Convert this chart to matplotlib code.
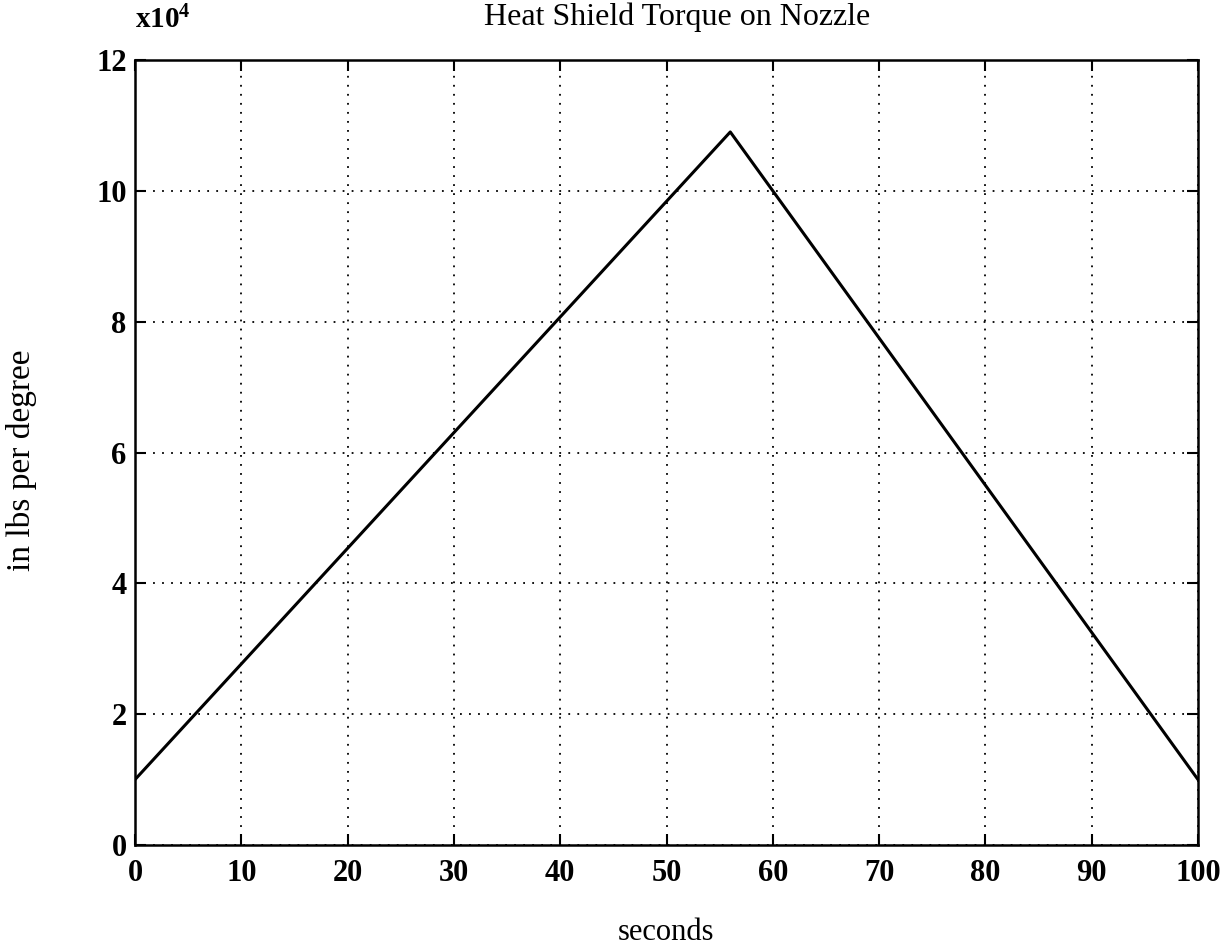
import matplotlib
matplotlib.use("Agg")
import matplotlib.pyplot as plt

# Torque profile (in-lbs per degree, in units of 1e4) versus time
time_s = [0, 56, 100]
torque_e4 = [1.0, 10.9, 1.0]

x_ticks = [0, 10, 20, 30, 40, 50, 60, 70, 80, 90, 100]
y_ticks = [0, 2, 4, 6, 8, 10, 12]

plt.rcParams['font.family'] = ['Liberation Serif', 'DejaVu Serif']
plt.rcParams['mathtext.fontset'] = 'custom'
plt.rcParams['mathtext.rm'] = 'Liberation Serif'
plt.rcParams['mathtext.bf'] = 'Liberation Serif:bold'

W, H = 1229, 950
fig = plt.figure(figsize=(W / 100, H / 100), dpi=100)
ax = fig.add_axes([135 / W, 1 - 845 / H, (1198 - 135) / W, (845 - 60) / H])

ax.plot(time_s, torque_e4, color='black', linewidth=2.2)

ax.set_xlim(0, 100)
ax.set_ylim(0, 12)
ax.set_xticks(x_ticks)
ax.set_yticks(y_ticks)
ax.tick_params(direction='in', length=8, width=1.5, top=True, right=True,
               labelsize=22)
ax.tick_params(axis='x', pad=10)
ax.tick_params(axis='y', pad=6)
for lab in ax.get_xticklabels() + ax.get_yticklabels():
    lab.set_fontweight('bold')

ax.grid(True, color='black', linestyle=(0, (1, 4)), linewidth=1.3)
for sp in ax.spines.values():
    sp.set_linewidth(1.8)

fig.text(677 / W, 1 - 17 / H, 'Heat Shield Torque on Nozzle', fontsize=23,
         ha='center', va='center')
fig.text(666 / W, 1 - 933 / H, 'seconds', fontsize=22,
         ha='center', va='center')
fig.text(22 / W, 1 - 460 / H, 'in lbs per degree', fontsize=24,
         rotation=90, ha='center', va='center')
fig.text(135 / W, 1 - 28 / H, r'$\mathbf{x10^4}$', fontsize=21,
         ha='left', va='baseline')

fig.savefig('out.png', dpi=100)
